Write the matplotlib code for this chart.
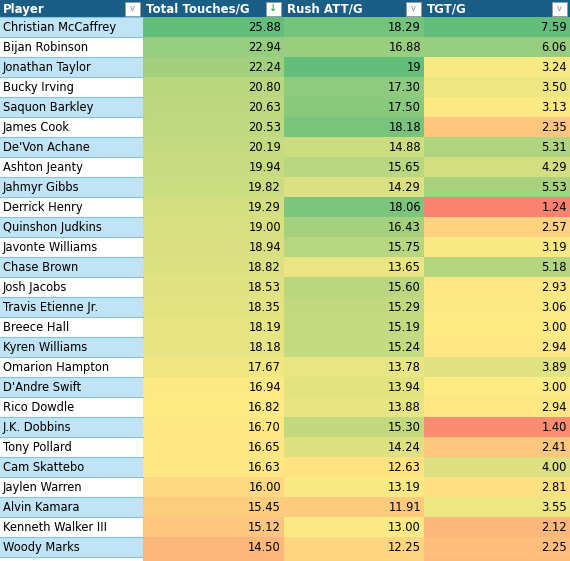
import matplotlib.pyplot as plt
from matplotlib.patches import Rectangle
import numpy as np

players = ["Christian McCaffrey", "Bijan Robinson", "Jonathan Taylor", "Bucky Irving",
           "Saquon Barkley", "James Cook", "De'Von Achane", "Ashton Jeanty", "Jahmyr Gibbs",
           "Derrick Henry", "Quinshon Judkins", "Javonte Williams", "Chase Brown", "Josh Jacobs",
           "Travis Etienne Jr.", "Breece Hall", "Kyren Williams", "Omarion Hampton",
           "D'Andre Swift", "Rico Dowdle", "J.K. Dobbins", "Tony Pollard", "Cam Skattebo",
           "Jaylen Warren", "Alvin Kamara", "Kenneth Walker III", "Woody Marks"]
touches = [25.88, 22.94, 22.24, 20.80, 20.63, 20.53, 20.19, 19.94, 19.82, 19.29, 19.00,
           18.94, 18.82, 18.53, 18.35, 18.19, 18.18, 17.67, 16.94, 16.82, 16.70, 16.65,
           16.63, 16.00, 15.45, 15.12, 14.50]
rush = [18.29, 16.88, 19, 17.30, 17.50, 18.18, 14.88, 15.65, 14.29, 18.06, 16.43, 15.75,
        13.65, 15.60, 15.29, 15.19, 15.24, 13.78, 13.94, 13.88, 15.30, 14.24, 12.63, 13.19,
        11.91, 13.00, 12.25]
rush_labels = ["19" if v == 19 else f"{v:.2f}" for v in rush]
tgt = [7.59, 6.06, 3.24, 3.50, 3.13, 2.35, 5.31, 4.29, 5.53, 1.24, 2.57, 3.19, 5.18, 2.93,
       3.06, 3.00, 2.94, 3.89, 3.00, 2.94, 1.40, 2.41, 4.00, 2.81, 3.55, 2.12, 2.25]
headers = ["Player", "Total Touches/G", "Rush ATT/G", "TGT/G"]

# colour scale bounds (min, mid, max) of the full table, which runs past the crop
bounds = [(11.0, 16.8, 25.88), (9.0, 12.9, 19.0), (0.8, 3.0, 7.59)]

red = np.array([248, 105, 107]) / 255
yel = np.array([255, 235, 132]) / 255
grn = np.array([99, 190, 123]) / 255


def scale_color(v, b):
    lo, mid, hi = b
    if v <= mid:
        t = max(0, (v - lo) / (mid - lo))
        return red + (yel - red) * t
    t = min(1, (v - mid) / (hi - mid))
    return yel + (grn - yel) * t


cols_x = [0, 143, 284, 424, 570]
hdr_h = 17
row_h = 20
W, H = 570, 561
fnt = "DejaVu Sans"

fig = plt.figure(figsize=(5.7, 5.61), dpi=100)
ax = fig.add_axes([0, 0, 1, 1])
ax.set_xlim(0, W)
ax.set_ylim(H, 0)
ax.axis("off")

ax.add_patch(Rectangle((0, 0), W, hdr_h, color="#1b5e85"))
for j, h in enumerate(headers):
    ax.text(cols_x[j] + 3, hdr_h / 2 + 0.5, h, color="white", fontsize=8.5, fontweight="bold",
            va="center", ha="left", family=fnt)
    bx = cols_x[j + 1] - 18
    ax.add_patch(Rectangle((bx, 1.5), 15, 14, facecolor="white", edgecolor="#999999", lw=0.6))
    ax.text(bx + 7.5, 8, "↓" if j == 1 else "v", color="#2e8b3a" if j == 1 else "#888888",
            fontsize=7 if j == 1 else 6, ha="center", va="center")

series = [(touches, [f"{v:.2f}" for v in touches]), (rush, rush_labels),
          (tgt, [f"{v:.2f}" for v in tgt])]
n = len(players)
for i in range(n + 1):
    y = hdr_h + i * row_h
    bg = "#c0e4f5" if i % 2 == 0 else "white"
    ax.add_patch(Rectangle((0, y), cols_x[1], row_h, facecolor=bg, edgecolor="none"))
    ax.plot([0, cols_x[1]], [y, y], color="#7fc4e8", lw=0.8)
    if i >= n:
        continue
    ax.text(3, y + row_h / 2 + 0.5, players[i], fontsize=8.3, va="center", ha="left",
            family=fnt)
    for j, (vals, labels) in enumerate(series):
        c = scale_color(vals[i], bounds[j])
        ax.add_patch(Rectangle((cols_x[j + 1], y), cols_x[j + 2] - cols_x[j + 1], row_h,
                               facecolor=c, edgecolor="none"))
        ax.text(cols_x[j + 2] - 3, y + row_h / 2 + 0.5, labels[i], fontsize=8.3, va="center",
                ha="right", family=fnt)

# last partial row below Woody Marks
y = hdr_h + n * row_h
for j, v in enumerate([14.4, 12.2, 2.2]):
    ax.add_patch(Rectangle((cols_x[j + 1], y), cols_x[j + 2] - cols_x[j + 1], row_h,
                           facecolor=scale_color(v, bounds[j]), edgecolor="none"))

fig.savefig("out.png", dpi=100)
